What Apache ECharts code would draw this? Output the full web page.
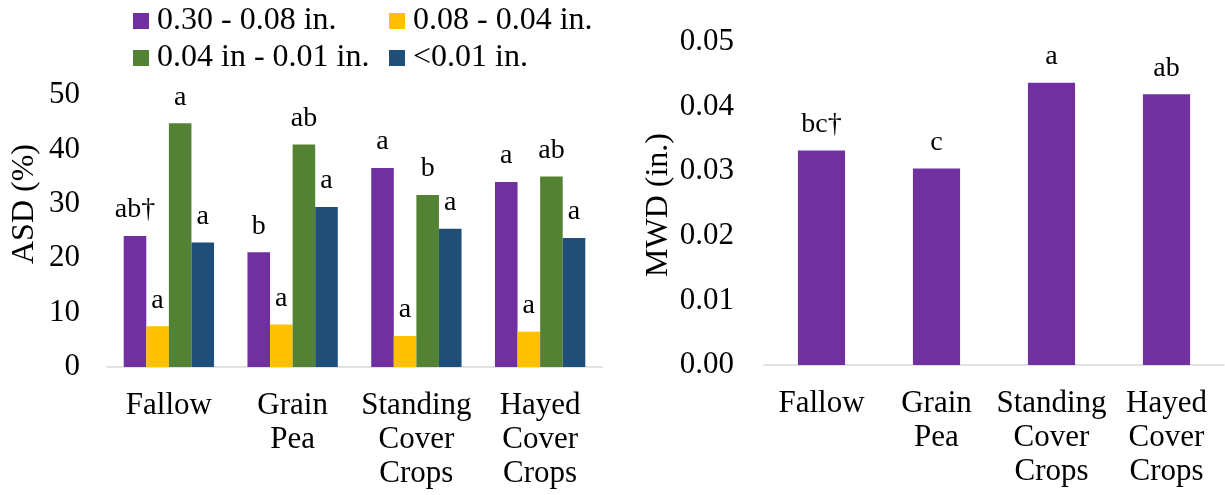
<!DOCTYPE html>
<html>
<head>
<meta charset="utf-8">
<script src="https://cdn.jsdelivr.net/npm/echarts@6/dist/echarts.min.js"></script>
<style>html,body{margin:0;padding:0;background:#fff;}#c{width:1225px;height:495px;}</style>
</head>
<body>
<div id="c"></div>
<script>
const categories = ['Fallow', 'Grain\nPea', 'Standing\nCover\nCrops', 'Hayed\nCover\nCrops'];
const seriesNames = ['0.30 - 0.08 in.', '0.08 - 0.04 in.', '0.04 in - 0.01 in.', '<0.01 in.'];
const asdLarge = [24.1, 21.1, 36.6, 34.0];
const asdMid = [7.5, 7.8, 5.7, 6.5];
const asdSmall = [44.8, 40.9, 31.6, 35.0];
const asdFine = [22.9, 29.4, 25.4, 23.7];
const lettersLarge = ['ab\u2020', 'b', 'a', 'a'];
const lettersMid = ['a', 'a', 'a', 'a'];
const lettersSmall = ['a', 'ab', 'b', 'ab'];
const lettersFine = ['a', 'a', 'a', 'a'];
const mwd = [0.0332, 0.0304, 0.0437, 0.0419];
const mwdLetters = ['bc\u2020', 'c', 'a', 'ab'];
const asdTicks = [0, 10, 20, 30, 40, 50];
const mwdTicks = [0, 0.01, 0.02, 0.03, 0.04, 0.05];

const FONT = '"Times New Roman", "Liberation Serif", serif';
const colors = ['#7030A0', '#FFC000', '#548235', '#1F4E79'];

const chart = echarts.init(document.getElementById('c'), null, {renderer: 'canvas'});

function barLabel(letters) {
  return {
    show: true, position: 'top', distance: 12,
    fontFamily: FONT, fontSize: 28, color: '#000',
    formatter: p => letters[p.dataIndex]
  };
}

const legendBase = {
  orient: 'vertical', icon: 'rect', itemWidth: 16, itemHeight: 16, itemGap: 5, padding: 0,
  selectedMode: false,
  textStyle: {fontFamily: FONT, fontSize: 32, color: '#000', lineHeight: 32, padding: [0, 0, 0, 3]}
};

const xAxisBase = {
  type: 'category', data: categories,
  axisLine: {lineStyle: {color: '#D9D9D9', width: 1.5}},
  axisTick: {show: false},
  axisLabel: {fontFamily: FONT, fontSize: 31, color: '#000', lineHeight: 34, margin: 22, interval: 0}
};

const option = {
  backgroundColor: '#fff',
  animation: false,
  color: colors,
  legend: [
    Object.assign({}, legendBase, {left: 133, top: 5, data: [seriesNames[0], seriesNames[2]]}),
    Object.assign({}, legendBase, {left: 389, top: 5, data: [seriesNames[1], seriesNames[3]]})
  ],
  grid: [
    {left: 107, width: 495, top: 95, height: 272},
    {left: 764, width: 460, top: 42, height: 323}
  ],
  xAxis: [
    Object.assign({}, xAxisBase, {gridIndex: 0}),
    Object.assign({}, xAxisBase, {gridIndex: 1})
  ],
  yAxis: [
    {
      type: 'value', gridIndex: 0, min: asdTicks[0], max: asdTicks[asdTicks.length - 1], interval: 10,
      axisLine: {show: false}, axisTick: {show: false}, splitLine: {show: false},
      axisLabel: {fontFamily: FONT, fontSize: 31, color: '#000', margin: 27}
    },
    {
      type: 'value', gridIndex: 1, min: mwdTicks[0], max: mwdTicks[mwdTicks.length - 1], interval: 0.01,
      axisLine: {show: false}, axisTick: {show: false}, splitLine: {show: false},
      axisLabel: {fontFamily: FONT, fontSize: 31, color: '#000', margin: 30, formatter: v => v.toFixed(2)}
    }
  ],
  graphic: [
    {type: 'text', x: 25, y: 204, rotation: Math.PI / 2,
     style: {text: 'ASD (%)', fontFamily: FONT, fontSize: 32, fill: '#000', align: 'center', verticalAlign: 'middle'}},
    {type: 'text', x: 659, y: 205, rotation: Math.PI / 2,
     style: {text: 'MWD (in.)', fontFamily: FONT, fontSize: 32, fill: '#000', align: 'center', verticalAlign: 'middle'}}
  ],
  series: [
    {name: seriesNames[0], type: 'bar', xAxisIndex: 0, yAxisIndex: 0, data: asdLarge, barGap: '0%', barCategoryGap: '27%',
     itemStyle: {color: colors[0]}, label: barLabel(lettersLarge)},
    {name: seriesNames[1], type: 'bar', xAxisIndex: 0, yAxisIndex: 0, data: asdMid, barGap: '0%', barCategoryGap: '27%',
     itemStyle: {color: colors[1]}, label: barLabel(lettersMid)},
    {name: seriesNames[2], type: 'bar', xAxisIndex: 0, yAxisIndex: 0, data: asdSmall, barGap: '0%', barCategoryGap: '27%',
     itemStyle: {color: colors[2]}, label: barLabel(lettersSmall)},
    {name: seriesNames[3], type: 'bar', xAxisIndex: 0, yAxisIndex: 0, data: asdFine, barGap: '0%', barCategoryGap: '27%',
     itemStyle: {color: colors[3]}, label: barLabel(lettersFine)},
    {name: 'MWD', type: 'bar', xAxisIndex: 1, yAxisIndex: 1, data: mwd, barCategoryGap: '59%',
     itemStyle: {color: colors[0]}, label: barLabel(mwdLetters)}
  ]
};
chart.setOption(option);
</script>
</body>
</html>
